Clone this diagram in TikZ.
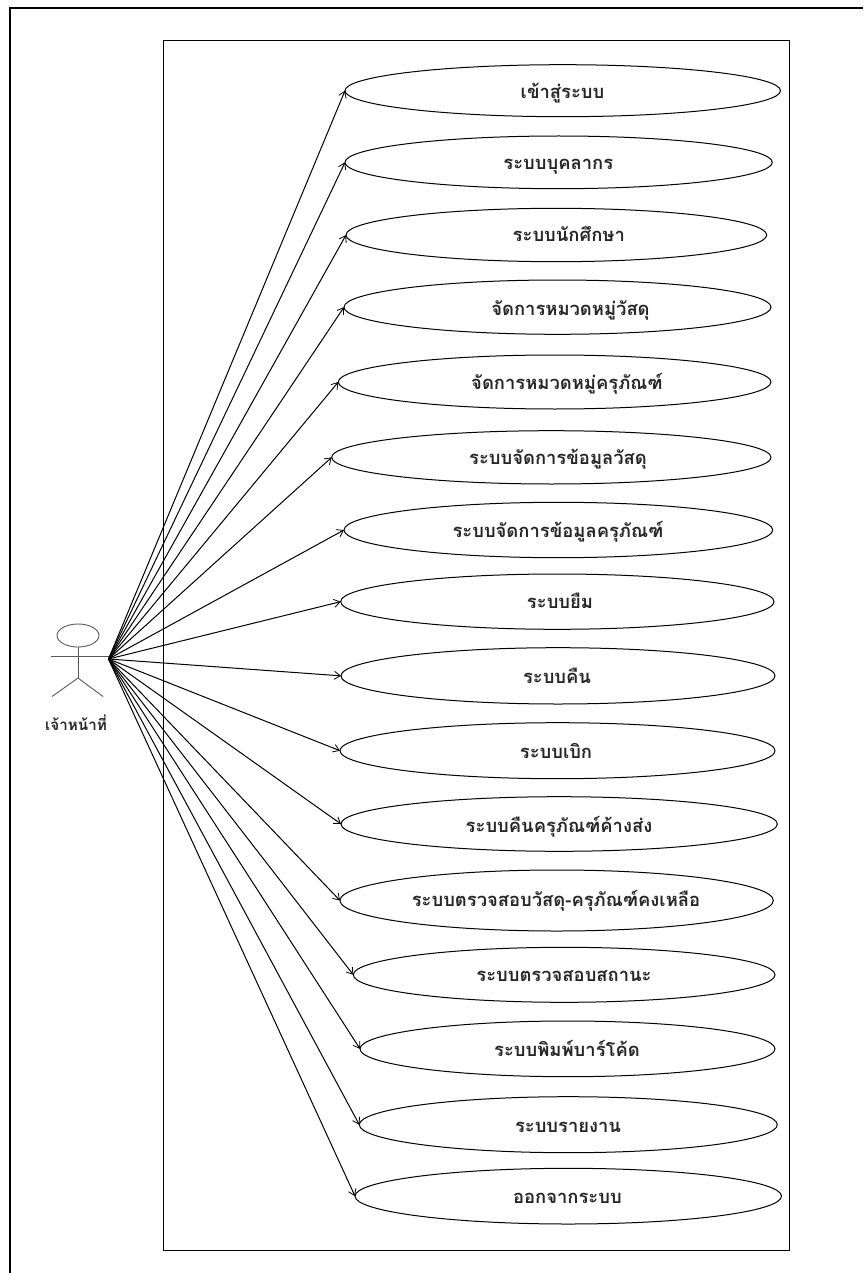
\documentclass[tikz,border=0pt]{standalone}
\usepackage{fontspec}
\setmainfont{Loma}[Script=Thai]
\usetikzlibrary{shapes.geometric,arrows.meta}
\tikzset{
  usecase/.style={draw=black,ellipse,line width=1pt,inner sep=0pt,outer sep=0pt},
  uclabel/.style={anchor=base,inner sep=0pt,font=\fontsize{18.4}{20}\selectfont\bfseries,text=black!85},
  link/.style={line width=1pt,-{Straight Barb[length=6pt,width=8pt,line width=0.8pt]}},
  stick/.style={draw=black!65,line width=0.9pt},
}
% name, left, right, top, bottom, label x, label mid y, text
\newcommand{\ucase}[8]{%
  \pgfmathsetmacro{\ucw}{#3-#2}\pgfmathsetmacro{\uch}{#5-#4}%
  \pgfmathsetmacro{\ucx}{(#2+#3)/2}\pgfmathsetmacro{\ucy}{(#4+#5)/2}%
  \pgfmathsetmacro{\ucty}{#7+7}%
  \node[usecase,minimum width=\ucw pt,minimum height=\uch pt] (#1) at (\ucx,\ucy) {};
  \node[uclabel] (#1t) at (#6,\ucty) {#8};
  \draw[link] (src) -- (#1.west);
}
\begin{document}
\begin{tikzpicture}[x=1pt,y=-1pt]
\useasboundingbox (0,0) rectangle (863,1273);
\coordinate (ot) at (863,7.7);
\coordinate (oc) at (10,7.7);
\coordinate (ob) at (10,1273);
\draw[line width=2pt] (ot) -- (oc) -- (ob);
\node[draw=black,line width=1pt,minimum width=625.5pt,minimum height=1210pt,inner sep=0pt,outer sep=0pt] (sys) at (476.4,645.4) {};
% actor
\node[stick,ellipse,draw,minimum width=42pt,minimum height=23pt,inner sep=0pt,outer sep=0pt] (head) at (78,635.5) {};
\coordinate (hip) at (78,678);
\coordinate (lhand) at (51,656);
\coordinate (rhand) at (109,656);
\coordinate (lfoot) at (52,696.5);
\coordinate (rfoot) at (103,696.5);
\coordinate (src) at (108.5,659);
\draw[stick] (head.south) -- (hip);
\draw[stick] (lhand) -- (rhand);
\draw[stick] (lfoot) -- (hip) -- (rfoot);
\node[anchor=base,inner sep=0pt,font=\fontsize{15.2}{17}\selectfont\bfseries,text=black!85] (actor) at (76,730.5) {เจ้าหน้าที่};
% use cases
\ucase{e1}{345}{780.5}{64.7}{116.7}{562.5}{92}{เข้าสู่ระบบ}
\ucase{e2}{345}{772.3}{136}{188.7}{558.3}{162.7}{ระบบบุคลากร}
\ucase{e3}{346}{766.7}{208.3}{261.7}{568.8}{235}{ระบบนักศึกษา}
\ucase{e4}{344}{771}{280}{334.3}{570.5}{308}{จัดการหมวดหมู่วัสดุ}
\ucase{e5}{338.3}{771}{355}{409}{567}{382.7}{จัดการหมวดหมู่ครุภัณฑ์}
\ucase{e6}{331.7}{771}{430.7}{484}{558}{457}{ระบบจัดการข้อมูลวัสดุ}
\ucase{e7}{344}{772.7}{502.3}{557.7}{558}{530}{ระบบจัดการข้อมูลครุภัณฑ์}
\ucase{e8}{340.7}{774}{574}{629.3}{560}{601.7}{ระบบยืม}
\ucase{e9}{341}{775}{647.7}{704}{557}{676.7}{ระบบคืน}
\ucase{e10}{340}{775}{722.7}{778.7}{556}{751.7}{ระบบเบิก}
\ucase{e11}{341}{777.3}{796.7}{851.3}{559}{825}{ระบบคืนครุภัณฑ์ค้างส่ง}
\ucase{e12}{340}{773.3}{870}{931}{556}{899}{ระบบตรวจสอบวัสดุ-ครุภัณฑ์คงเหลือ}
\ucase{e13}{353.3}{775}{947.3}{1002.3}{564}{974}{ระบบตรวจสอบสถานะ}
\ucase{e14}{360}{775}{1021}{1076.7}{567}{1049}{ระบบพิมพ์บาร์โค้ด}
\ucase{e15}{359.3}{777.3}{1096.7}{1152.7}{568}{1125}{ระบบรายงาน}
\ucase{e16}{355}{781.5}{1168.3}{1224}{567.4}{1196.7}{ออกจากระบบ}
\end{tikzpicture}
\end{document}
